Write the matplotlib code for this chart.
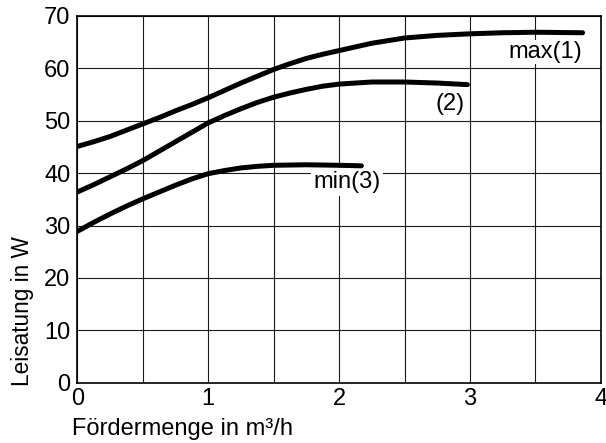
import matplotlib
matplotlib.use("Agg")
import matplotlib.pyplot as plt
from matplotlib.ticker import MultipleLocator

plt.rcParams['font.family'] = ['Liberation Sans', 'DejaVu Sans']

# values
x_max = [0.0, 0.125, 0.25, 0.375, 0.5, 0.625, 0.75, 0.875, 1.0, 1.125, 1.25, 1.375,
         1.5, 1.625, 1.75, 1.875, 2.0, 2.125, 2.25, 2.375, 2.5, 2.75, 3.0, 3.25, 3.5, 3.86]
y_max = [45.1, 46.0, 47.0, 48.2, 49.4, 50.6, 51.9, 53.1, 54.4, 55.8, 57.2, 58.5,
         59.8, 60.9, 61.9, 62.7, 63.4, 64.1, 64.8, 65.3, 65.8, 66.3, 66.6, 66.8, 66.9, 66.8]

x_mid = [0.0, 0.125, 0.25, 0.375, 0.5, 0.625, 0.75, 0.875, 1.0, 1.125, 1.25, 1.375,
         1.5, 1.625, 1.75, 1.875, 2.0, 2.25, 2.5, 2.75, 2.98]
y_mid = [36.4, 37.8, 39.3, 40.8, 42.4, 44.2, 46.0, 47.8, 49.6, 51.0, 52.3, 53.5,
         54.5, 55.3, 56.0, 56.6, 57.0, 57.4, 57.4, 57.2, 56.9]

x_min = [0.0, 0.125, 0.25, 0.375, 0.5, 0.625, 0.75, 0.875, 1.0, 1.125, 1.25, 1.375,
         1.5, 1.75, 2.0, 2.17]
y_min = [28.9, 30.6, 32.2, 33.7, 35.1, 36.4, 37.7, 38.9, 39.9, 40.5, 41.0, 41.3,
         41.5, 41.6, 41.5, 41.4]

x_ticks = [0, 1, 2, 3, 4]
y_ticks = [0, 10, 20, 30, 40, 50, 60, 70]

fig = plt.figure(figsize=(6.06, 4.43), dpi=100)
ax = fig.add_axes([0.1276, 0.1361, 0.864, 0.8278])

fs = 17
lw_curve = 3.6
for xs, ys in [(x_max, y_max), (x_mid, y_mid), (x_min, y_min)]:
    ax.plot(xs, ys, color='black', lw=lw_curve, solid_capstyle='round',
            solid_joinstyle='round', zorder=4)

# curve labels
ax.text(3.855, 63.1, 'max(1)', ha='right', va='center', fontsize=fs, zorder=3,
        bbox=dict(fc='white', ec='none', pad=0.5))
ax.text(2.962, 53.2, '(2)', ha='right', va='center', fontsize=fs, zorder=3)
ax.text(2.06, 38.3, 'min(3)', ha='center', va='center', fontsize=fs, zorder=3,
        bbox=dict(fc='white', ec='none', pad=2))

ax.set_xlim(0, 4)
ax.set_ylim(0, 70)
ax.set_xticks(x_ticks)
ax.set_yticks(y_ticks)
ax.xaxis.set_minor_locator(MultipleLocator(0.5))
ax.grid(which='both', color='#1a1a1a', lw=0.8, zorder=1)
ax.set_axisbelow(True)
ax.tick_params(which='both', length=0, labelsize=fs)
ax.tick_params(axis='x', pad=4)
ax.tick_params(axis='y', pad=5)

for sp in ax.spines.values():
    sp.set_linewidth(1.2)
    sp.set_color('black')

ax.set_xlabel('Fördermenge in m³/h', fontsize=fs, ha='left', va='baseline')
ax.xaxis.set_label_coords(-0.0105, -0.1417)
ax.set_ylabel('Leisatung in W', fontsize=16.3)
ax.yaxis.set_label_coords(-0.082, 0.195)

fig.savefig('out.png', dpi=100)
